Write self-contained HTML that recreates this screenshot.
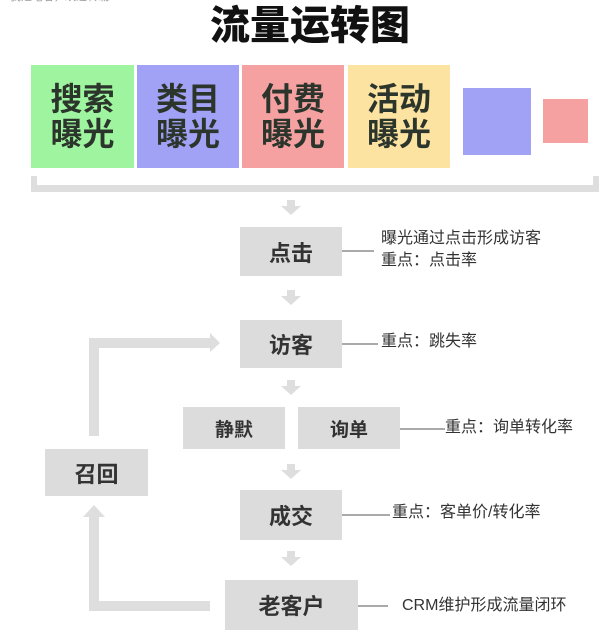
<!DOCTYPE html>
<html><head><meta charset="utf-8"><style>
body{margin:0;background:#fff;}
#c{position:relative;width:616px;height:633px;overflow:hidden;background:#fff;font-family:"Liberation Sans","Noto Sans CJK SC",sans-serif;}
.b{position:absolute;display:flex;align-items:center;justify-content:center;font-weight:bold;color:#333;}
.g{background:#dcdcdc;font-size:22px;}
.t{position:absolute;font-size:16px;color:#333;line-height:22px;white-space:nowrap;}
.top{font-size:32px;line-height:35px;text-align:center;color:#2c352c;}
</style></head><body><div id="c">
<div class="t" style="left:10px;top:-14px;font-size:11px;color:#999">我是笔者，欢迎转载</div>
<div class="b" style="left:150px;top:-4px;width:320px;height:52px;font-size:40px;color:#111;font-weight:900">流量运转图</div>
<div class="b top" style="left:31px;top:65px;width:103px;height:103px;background:#9ff59f">搜索<br>曝光</div>
<div class="b top" style="left:137px;top:65px;width:102px;height:103px;background:#a1a1f5">类目<br>曝光</div>
<div class="b top" style="left:242px;top:65px;width:102px;height:103px;background:#f5a1a1">付费<br>曝光</div>
<div class="b top" style="left:348px;top:65px;width:102px;height:103px;background:#fce3a1">活动<br>曝光</div>
<div style="position:absolute;left:463px;top:88px;width:68px;height:67px;background:#a1a1f5"></div>
<div style="position:absolute;left:543px;top:99px;width:45px;height:44px;background:#f5a1a1"></div>
<svg style="position:absolute;left:0;top:0" width="616" height="633">
<g fill="#dedede">
<rect x="31" y="176" width="6" height="16"/><rect x="593" y="176" width="6" height="16"/><rect x="31" y="185" width="568" height="7"/>
<path d="M287 200h8v6h6l-10 9l-10-9h6z"/>
<path d="M287 290h8v6h6l-10 9l-10-9h6z"/>
<path d="M287 380h8v6h6l-10 9l-10-9h6z"/>
<path d="M287 464h8v6h6l-10 9l-10-9h6z"/>
<path d="M287 551h8v6h6l-10 9l-10-9h6z"/>
<path d="M89 436V338h121v-5l10 10l-10 9v-4H99v88z"/>
<path d="M89 517h-6l11-12l11 12h-6v84h111v10H89z"/>
</g>
<g stroke="#555" stroke-width="1">
<line x1="342" y1="251" x2="374" y2="251"/>
<line x1="342" y1="344" x2="378" y2="344"/>
<line x1="400" y1="429" x2="445" y2="429"/>
<line x1="342" y1="515" x2="390" y2="515"/>
<line x1="358" y1="606" x2="388" y2="606"/>
</g></svg>
<div class="b g" style="left:240px;top:227px;width:102px;height:49px">点击</div>
<div class="b g" style="left:240px;top:320px;width:102px;height:48px">访客</div>
<div class="b g" style="left:183px;top:407px;width:102px;height:42px;font-size:19px">静默</div>
<div class="b g" style="left:298px;top:407px;width:102px;height:42px;font-size:19px">询单</div>
<div class="b g" style="left:240px;top:490px;width:102px;height:50px">成交</div>
<div class="b g" style="left:225px;top:580px;width:133px;height:50px">老客户</div>
<div class="b g" style="left:45px;top:449px;width:103px;height:47px">召回</div>
<div class="t" style="left:381px;top:228px">曝光通过点击形成访客<br>重点：点击率</div>
<div class="t" style="left:381px;top:331px">重点：跳失率</div>
<div class="t" style="left:445px;top:417px">重点：询单转化率</div>
<div class="t" style="left:392px;top:502px">重点：客单价/转化率</div>
<div class="t" style="left:402px;top:595px">CRM维护形成流量闭环</div>
</div></body></html>
